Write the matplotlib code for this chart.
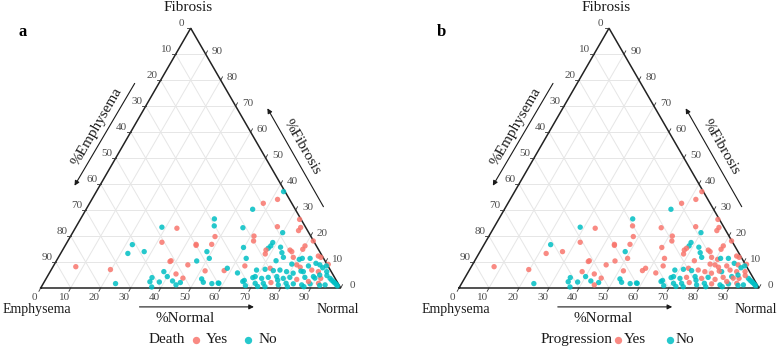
import matplotlib.pyplot as plt
import numpy as np

plt.rcParams['font.family'] = ['Liberation Serif', 'DejaVu Serif']

# ternary data, percent of lung: Normal, Fibrosis (Emphysema = rest)
normal = [7.6, 19.7, 24.1, 22.4, 22.2, 27.5, 35.1, 35.2, 38.4, 36.8,
          28.7, 33.9, 31.6, 43.4, 43.6, 44.6, 45.9, 48.2, 48.6, 48.4,
          50.5, 46.8, 38.0, 38.2, 44.6, 51.5, 37.9, 42.4, 40.0, 45.5,
          42.6, 45.5, 44.5, 51.9, 53.1, 56.2, 58.5, 58.2, 57.8, 58.4,
          62.7, 55.8, 55.5, 61.1, 61.9, 59.8, 62.8, 63.8, 66.1, 66.4,
          68.7, 67.8, 62.4, 61.9, 57.9, 73.1, 75.0, 74.9, 67.1, 70.0,
          81.8, 68.6, 68.6, 68.2, 67.8, 68.3, 75.8, 76.7, 80.0, 79.9,
          72.1, 73.6, 75.0, 78.3, 80.7, 81.5, 84.1, 86.4, 87.5, 73.2,
          80.9, 82.5, 79.1, 87.0, 88.6, 90.1, 91.3, 68.5, 71.2, 72.7,
          74.2, 76.3, 78.8, 81.3, 84.4, 86.9, 89.4, 92.2, 69.3, 71.8,
          73.8, 76.5, 79.0, 81.0, 83.7, 86.0, 88.7, 91.5, 94.6, 96.4,
          70.6, 73.3, 75.7, 78.6, 80.9, 83.4, 86.4, 89.0, 91.7, 94.2,
          97.8, 95.5, 97.0, 98.5, 93.0, 90.5, 92.5, 88.0, 85.0, 83.5,
          77.5, 74.5, 72.0, 82.0, 87.5, 89.5, 91.0]
fibrosis = [8.2, 7.1, 1.7, 13.3, 16.7, 14.0, 4.0, 2.4, 2.3, 0.4,
            23.4, 23.0, 17.6, 16.8, 16.4, 26.6, 23.9, 19.8, 16.8, 14.0,
            11.4, 10.4, 10.2, 10.5, 8.9, 6.6, 6.3, 5.4, 4.4, 3.8,
            2.7, 2.1, 1.2, 3.5, 2.2, 1.7, 1.8, 1.9, 6.7, 7.6,
            5.8, 23.2, 30.3, 20.0, 18.1, 15.6, 11.4, 8.5, 2.5, 2.9,
            4.0, 0.9, 37.1, 34.1, 32.6, 26.4, 23.3, 22.1, 23.6, 21.3,
            18.1, 17.5, 16.2, 15.3, 14.6, 13.1, 14.6, 14.0, 16.2, 14.9,
            15.7, 13.6, 11.8, 11.8, 11.0, 11.4, 11.4, 12.3, 11.8, 10.5,
            8.9, 8.0, 9.2, 9.5, 8.9, 7.8, 9.1, 6.9, 7.2, 7.6,
            6.7, 6.9, 6.3, 5.7, 6.3, 6.9, 6.3, 6.3, 4.4, 3.7,
            4.1, 4.4, 3.7, 4.1, 3.3, 4.1, 4.4, 3.7, 3.7, 2.4,
            1.8, 1.8, 2.1, 1.2, 1.8, 1.6, 1.2, 1.6, 1.8, 1.2,
            1.4, 3.0, 2.0, 0.8, 4.8, 5.0, 1.0, 2.5, 8.5, 6.5,
            3.0, 0.5, 0.6, 0.5, 0.5, 3.8, 8.5]
emphysema = [100 - n - f for n, f in zip(normal, fibrosis)]

# 1 = Yes, 0 = No
death = [1, 1, 0, 0, 0, 0, 0, 0, 0, 0,
         0, 1, 1, 1, 1, 0, 0, 1, 1, 0,
         0, 0, 1, 1, 1, 1, 0, 1, 0, 1,
         0, 0, 0, 0, 0, 0, 0, 0, 1, 0,
         0, 0, 0, 1, 1, 0, 0, 1, 0, 0,
         0, 0, 0, 1, 1, 1, 1, 1, 1, 0,
         1, 0, 0, 0, 1, 1, 1, 1, 1, 1,
         0, 0, 0, 1, 0, 0, 0, 1, 1, 0,
         1, 1, 0, 0, 0, 0, 1, 0, 0, 1,
         0, 0, 0, 0, 0, 1, 1, 0, 0, 0,
         0, 0, 0, 0, 1, 0, 0, 1, 0, 0,
         0, 0, 1, 0, 0, 0, 0, 0, 1, 0,
         0, 0, 0, 0, 0, 0, 0, 1, 0, 0,
         0, 0, 0, 0, 0, 0, 0]
progression = [1, 1, 0, 1, 0, 1, 0, 0, 0, 0,
               0, 1, 1, 1, 1, 0, 1, 1, 1, 0,
               1, 1, 1, 1, 1, 1, 1, 1, 0, 1,
               0, 0, 1, 0, 0, 0, 0, 0, 1, 1,
               1, 1, 0, 1, 1, 1, 1, 1, 0, 0,
               0, 0, 1, 1, 1, 1, 1, 1, 1, 0,
               1, 0, 0, 1, 1, 1, 1, 1, 1, 1,
               0, 0, 0, 1, 1, 0, 0, 1, 1, 1,
               1, 1, 1, 0, 1, 0, 1, 0, 0, 1,
               0, 1, 1, 1, 0, 1, 1, 1, 0, 0,
               1, 0, 1, 0, 1, 1, 0, 1, 0, 0,
               0, 0, 1, 0, 0, 1, 0, 0, 1, 0,
               0, 0, 0, 0, 1, 0, 0, 1, 1, 1,
               0, 0, 0, 0, 0, 1, 0]

ticks = [0, 10, 20, 30, 40, 50, 60, 70, 80, 90]
RED = '#F8766D'
CYAN = '#00BFC4'
H = np.sqrt(3) / 2


def tern(n, f):
    n = np.asarray(n, dtype=float) / 100
    f = np.asarray(f, dtype=float) / 100
    return n + 0.5 * f, f * H


def draw_panel(ax, groups, letter, leg_title, leg_x):
    # grid
    for k in range(1, 10):
        v = k * 10
        x, y = tern([0, 100 - v], [v, v])
        ax.plot(x, y, color='#e6e6e6', lw=0.7, zorder=1)
        x, y = tern([v, v], [0, 100 - v])
        ax.plot(x, y, color='#e6e6e6', lw=0.7, zorder=1)
        x, y = tern([100 - v, 0], [0, 100 - v])
        ax.plot(x, y, color='#e6e6e6', lw=0.7, zorder=1)
    # border
    x, y = tern([0, 100, 0, 0], [0, 0, 100, 0])
    ax.plot(x, y, color='#222222', lw=1.1, zorder=2, solid_joinstyle='miter')

    tk = dict(fontsize=8, color='#4d4d4d', ha='center', va='center',
              textcoords='offset points')
    for v in ticks:
        # Normal along the bottom
        x, y = tern(v, 0)
        ax.plot([x, x - 0.006], [y, y - 0.011], color='#333333', lw=0.6)
        ax.annotate(str(v), (x, y), xytext=(-4.5, -6.5), **tk)
        # Emphysema along the left side
        x, y = tern(0, 100 - v)
        ax.plot([x, x - 0.012], [y, y], color='#333333', lw=0.6)
        ax.annotate(str(v), (x, y), xytext=(-6.5, 3.5), **tk)
        # Fibrosis along the right side
        x, y = tern(100 - v, v)
        ax.plot([x, x + 0.006], [y, y + 0.011], color='#333333', lw=0.6)
        ax.annotate(str(v), (x, y), xytext=(8.5, 2), **tk)

    cols = [RED if g == 1 else CYAN for g in groups]
    x, y = tern(normal, fibrosis)
    ax.scatter(x, y, c=cols, s=15, alpha=0.85, linewidths=0, zorder=3)

    lab = dict(fontsize=11, color='#1a1a1a', ha='center', va='center')
    corner = dict(lab, fontsize=10)
    ax.text(0.49, 0.935, 'Fibrosis', **lab)
    ax.text(-0.012, -0.073, 'Emphysema', **corner)
    ax.text(0.99, -0.073, 'Normal', **corner)
    ax.text(0.481, -0.10, '%Normal', **lab)
    ax.text(0.188, 0.537, '%Emphysema', rotation=60, **lab)
    ax.text(0.872, 0.47, '%Fibrosis', rotation=-60, **lab)
    arr = dict(arrowstyle='-|>', color='#1a1a1a', lw=0.8, mutation_scale=7)
    ax.annotate('', xy=(0.72, -0.063), xytext=(0.32, -0.063), arrowprops=arr)
    ax.annotate('', xy=(0.108, 0.333), xytext=(0.318, 0.69), arrowprops=arr)
    ax.annotate('', xy=(0.751, 0.607), xytext=(0.947, 0.263), arrowprops=arr)

    ax.text(-0.06, 0.853, letter, fontsize=12, fontweight='bold',
            ha='center', va='center')

    ly = -0.172
    ax.text(leg_x[0], ly, leg_title, **lab)
    ax.scatter([leg_x[1]], [ly], s=28, color=RED, alpha=0.85, linewidths=0)
    ax.text(leg_x[2], ly, 'Yes', **lab)
    ax.scatter([leg_x[3]], [ly], s=28, color=CYAN, alpha=0.85, linewidths=0)
    ax.text(leg_x[4], ly, 'No', **lab)


fig = plt.figure(figsize=(7.79, 3.48), dpi=100)
ax1 = fig.add_axes([0, 0, 390 / 779, 1])
ax1.set_xlim(-40.7 / 300, -40.7 / 300 + 1.3)
ax1.set_ylim(-0.2, 0.96)
ax2 = fig.add_axes([389 / 779, 0, 390 / 779, 1])
ax2.set_xlim(-70 / 300, -70 / 300 + 1.3)
ax2.set_ylim(-0.2, 0.96)
for ax in (ax1, ax2):
    ax.axis('off')

draw_panel(ax1, death, 'a', 'Death', [0.421, 0.518, 0.588, 0.691, 0.758])
draw_panel(ax2, progression, 'b', 'Progression',
           [0.393, 0.53, 0.587, 0.703, 0.753])

fig.savefig('out.png', dpi=100)
